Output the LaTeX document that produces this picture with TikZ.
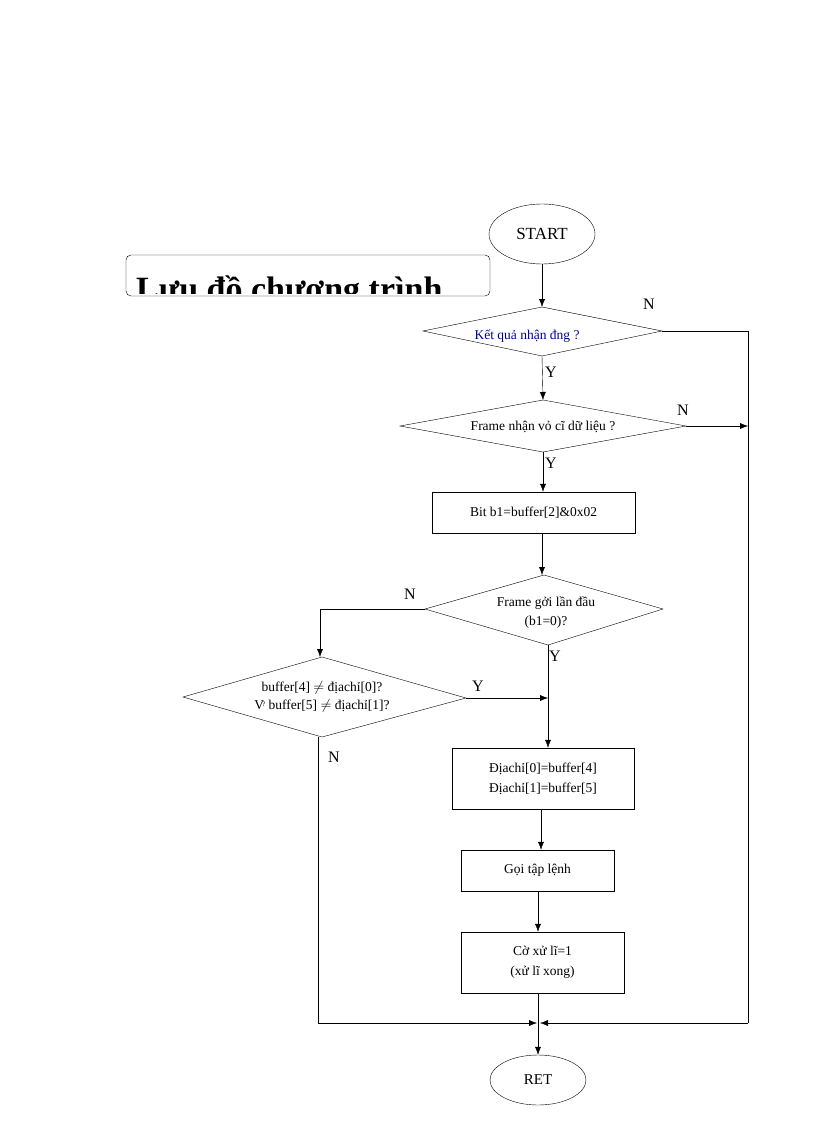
\documentclass[tikz,border=0pt]{standalone}
\usepackage{fontspec}
\setmainfont{Liberation Serif}
\usetikzlibrary{shapes.geometric,arrows.meta}
\begin{document}
\begin{tikzpicture}[x=1pt,y=-1pt,
  every node/.style={font=\fontsize{13.5}{15}\selectfont},
  box/.style={draw,rectangle,align=center,inner sep=0},
  ov/.style={draw,ellipse,inner sep=0},
  arr/.style={-{Latex[length=8pt,width=6pt]}},
  lab/.style={font=\fontsize{16}{18}\selectfont}]
\useasboundingbox (0,0) rectangle (816,1123);
\draw[rounded corners=5pt] (126,255) rectangle (490,296);
\begin{scope}
\clip (126,255) rectangle (490,293);
\node[anchor=base west,font=\bfseries\fontsize{34}{36}\selectfont,inner sep=0] (title) at (136,300) {Lưu đồ chương trình};
\end{scope}
\node[ov,minimum width=106,minimum height=60] (start) at (542,234) {\fontsize{17}{19}\selectfont START};
\draw (423,331) -- (542,307) -- (662,331) -- (542,356) -- cycle;
\coordinate (d1t) at (542,307); \coordinate (d1r) at (662,331); \coordinate (d1b) at (542,356);
\node[text=blue!60!black] (t1) at (527,336) {Kết quả nhận đng ?};
\draw (400,426) -- (543,400) -- (686,426) -- (543,452) -- cycle;
\coordinate (d2t) at (543,400); \coordinate (d2r) at (686,426); \coordinate (d2b) at (543,452);
\node (t2) at (543,427) {Frame nhận vỏ cĩ dữ liệu ?};
\node[box,minimum width=203,minimum height=41] (b1) at (533.5,512.5) {Bit b1=buffer[2]\&0x02};
\draw (425,609) -- (544,575) -- (663,609) -- (548,645) -- cycle;
\coordinate (d3t) at (544,575); \coordinate (d3l) at (425,609); \coordinate (d3b) at (548,645);
\node[align=center] (t3) at (546,613) {Frame gởi lần đầu\\[4pt](b1=0)?};
\draw (183,697) -- (322,657) -- (466,698) -- (322,737) -- cycle;
\coordinate (d4t) at (320,657); \coordinate (d4r) at (466,698); \coordinate (d4b) at (318,737);
\node[align=center] (t4) at (322,697) {buffer[4] $\neq$ địachỉ[0]?\\[3pt]V\kern-2pt\raisebox{3pt}{\scriptsize ?} buffer[5] $\neq$ địachỉ[1]?};
\node[box,minimum width=182,minimum height=61] (b2) at (543,778.5) {Địachỉ[0]=buffer[4]\\[5pt]Địachỉ[1]=buffer[5]};
\node[box,minimum width=153,minimum height=41] (b3) at (537.5,870.5) {Gọi tập lệnh};
\node[box,minimum width=163,minimum height=61] (b4) at (542.5,962.5) {Cờ xử lĩ=1\\[5pt](xử lĩ xong)};
\node[ov,minimum width=96,minimum height=50] (ret) at (538,1080) {\fontsize{15}{17}\selectfont RET};
\coordinate (r1) at (748,331); \coordinate (r2) at (748,426);
\coordinate (bot) at (748,1023); \coordinate (m) at (540,1023);
\coordinate (lb) at (318,1023); \coordinate (ml) at (537,1023);
\coordinate (l1) at (320,609); \coordinate (j) at (548,698);
\draw[arr] (start) -- (d1t);
\draw[arr] (d1b) -- (d2t);
\draw[arr] (d2b) -- (b1.north -| d2b);
\draw[arr] (b1.south -| 542,0) -- (d3t -| 542,0);
\draw (d1r) -- (r1) -- (bot);
\draw[arr] (d2r) -- (r2);
\draw[arr] (bot) -- (m);
\draw[arr] (d3l) -- (l1) -- (d4t);
\draw[arr] (d4r) -- (j);
\draw[arr] (d3b) -- (b2.north -| d3b);
\draw[arr] (b2.south -| 541,0) -- (b3.north -| 541,0);
\draw[arr] (b3.south -| 538,0) -- (b4.north -| 538,0);
\draw[arr] (d4b) -- (lb) -- (ml);
\draw[arr] (b4.south -| 538,0) -- (ret);
\node[lab] (n1) at (649,304) {N};
\node[lab] (y1) at (551,372) {Y};
\node[lab] (n2) at (683,410) {N};
\node[lab] (y2) at (551,463) {Y};
\node[lab] (n3) at (410,594) {N};
\node[lab] (y3) at (555,656) {Y};
\node[lab] (y4) at (478,686) {Y};
\node[lab] (n4) at (334,757) {N};
\end{tikzpicture}
\end{document}
